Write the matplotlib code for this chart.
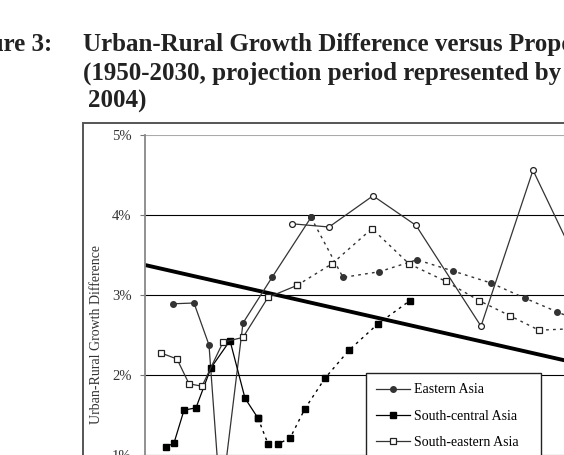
import matplotlib
matplotlib.use("Agg")
import matplotlib.pyplot as plt
from matplotlib.patches import Rectangle

# proportion urban (%) vs urban-rural growth difference (%), 1950-55 ... 2025-30
east_x = [17.8, 19.9, 21.4, 23.05, 22.65, 24.8, 27.7, 31.6, 34.8, 38.4, 42.2, 45.8, 49.6, 53.0, 56.2, 59.5]
east_y = [2.89, 2.90, 2.375, -0.45, 0.45, 2.65, 3.22, 3.97, 3.22, 3.29, 3.44, 3.30, 3.15, 2.96, 2.79, 2.62]

sc_x = [17.1, 17.9, 18.9, 20.1, 21.6, 23.5, 25.0, 26.3, 27.3, 28.3, 29.5, 31.0, 33.0, 35.4, 38.3, 41.5]
sc_y = [1.10, 1.15, 1.56, 1.59, 2.09, 2.43, 1.71, 1.46, 1.14, 1.14, 1.21, 1.58, 1.96, 2.31, 2.64, 2.93]

se_x = [16.6, 18.2, 19.4, 20.7, 22.8, 24.8, 27.3, 30.2, 33.7, 37.7, 41.4, 45.1, 48.4, 51.5, 54.4, 58.0]
se_y = [2.275, 2.20, 1.89, 1.86, 2.41, 2.47, 2.97, 3.12, 3.39, 3.83, 3.39, 3.17, 2.93, 2.74, 2.56, 2.58]

# series with open circles (legend entry cut off in the crop)
wa_x = [29.7, 33.4, 37.8, 42.1, 48.6, 53.8, 59.0]
wa_y = [3.89, 3.85, 4.24, 3.87, 2.61, 4.56, 3.20]

# regression line
fit_x = [15, 65]
fit_y = [3.375, 1.955]

n_est = 8  # estimates period, the rest is projection (dotted)

W, H = 564, 455
fig = plt.figure(figsize=(W / 100, H / 100), dpi=100)

serif = "Liberation Serif"
tsize = 18

# caption
fig.text(52 / W, 1 - 51 / H, "Figure 3:", ha="right", va="baseline",
         family=serif, weight="bold", size=tsize, color="#222222")
fig.text(83 / W, 1 - 51 / H, "Urban-Rural Growth Difference versus Proportion Urban",
         ha="left", va="baseline", family=serif, weight="bold", size=tsize, color="#222222")
fig.text(83 / W, 1 - 79.5 / H, "(1950-2030, projection period represented by dotted lines;",
         ha="left", va="baseline", family=serif, weight="bold", size=tsize, color="#222222")
fig.text(88 / W, 1 - 108 / H, "2004)", ha="left", va="baseline",
         family=serif, weight="bold", size=tsize, color="#222222")

# chart frame
fig.add_artist(Rectangle((83 / W, -1), 2, 1 + (H - 123) / H, transform=fig.transFigure,
                         fill=False, ec="#555555", lw=1.4))

ax = fig.add_axes([145 / W, (H - 535) / H, 500 / W, 400 / H])
ax.set_xlim(15, 65)
ax.set_ylim(0, 5)

dot = (0, (2, 3))
lc = "#333333"

ax.plot(fit_x, fit_y, color="black", lw=2.8, zorder=2)

ax.plot(east_x[:n_est], east_y[:n_est], "-o", color=lc, lw=0.9, ms=4,
        label="Eastern Asia", zorder=3)
ax.plot(east_x[n_est - 1:], east_y[n_est - 1:], "o", ls=dot, color=lc, lw=1, ms=4, zorder=3)

ax.plot(sc_x[:n_est], sc_y[:n_est], "-s", color="black", lw=0.9, ms=4,
        label="South-central Asia", zorder=3)
ax.plot(sc_x[n_est - 1:], sc_y[n_est - 1:], "s", ls=dot, color="black", lw=1, ms=4, zorder=3)

ax.plot(se_x[:n_est], se_y[:n_est], "-s", color=lc, mfc="white", mec="#222222", mew=0.9,
        lw=0.9, ms=4.5, label="South-eastern Asia", zorder=3)
ax.plot(se_x[n_est - 1:], se_y[n_est - 1:], "s", ls=dot, color=lc, mfc="white", mec="#222222",
        mew=0.9, lw=1, ms=4.5, zorder=3)

ax.plot(wa_x, wa_y, "-o", color=lc, mfc="white", mec="#222222", mew=0.9, lw=0.9, ms=4.2, zorder=3)

# axis styling
ax.set_yticks([0, 1, 2, 3, 4, 5])
ax.set_yticklabels(["0%", "1%", "2%", "3%", "4%", "5%"])
ax.set_xticks([])
ax.yaxis.grid(True, color="black", lw=0.8)
ax.get_ygridlines()[-1].set_color("#aaaaaa")
ax.tick_params(axis="y", direction="out", length=3.6, width=0.8, color="#777777",
               pad=6, labelsize=10.5, labelcolor="#333333")
for lab in ax.get_yticklabels():
    lab.set_family(serif)
for s in ["top", "right", "bottom"]:
    ax.spines[s].set_visible(False)
ax.spines["left"].set_color("#888888")
ax.spines["left"].set_linewidth(1.3)

fig.text(96 / W, 1 - 335 / H, "Urban-Rural Growth Difference", rotation=90,
         ha="center", va="center", family=serif, size=10, color="#333333")

leg = ax.legend(loc="upper left", bbox_to_anchor=(0.442, 0, 0.35, 0.405), mode="expand",
                borderaxespad=0, fancybox=False, edgecolor="#222222", framealpha=1,
                prop={"family": serif, "size": 10}, handlelength=2.45, handletextpad=0.25,
                labelspacing=0.95, borderpad=0.75)
leg.get_frame().set_linewidth(1.0)

fig.savefig("out.png", dpi=100)
